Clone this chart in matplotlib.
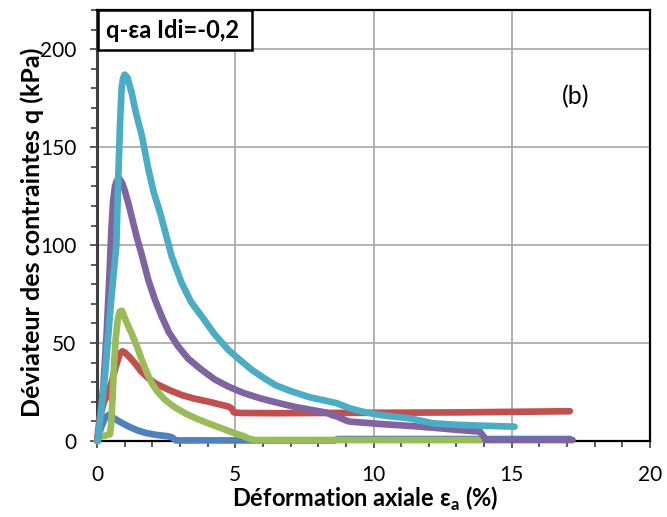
import matplotlib
matplotlib.use("Agg")
import matplotlib.pyplot as plt
from matplotlib.ticker import MultipleLocator
from matplotlib.patches import Rectangle

plt.rcParams['font.family'] = ['Lato', 'DejaVu Sans']

# ---- data ----
blue_x = [0, 0.15, 0.3, 0.42, 0.55, 0.8, 1.13, 1.45, 1.74, 2.1, 2.58, 2.72, 2.85, 8.6, 8.7, 17.1]
blue_y = [0, 7, 12, 13.3, 12.2, 10, 7.5, 5.5, 4.2, 3.2, 2.4, 1.8, 0.3, 0.3, 1.0, 1.0]

red_x = [0, 0.1, 0.25, 0.4, 0.55, 0.7, 0.82, 0.92, 1.02, 1.2, 1.37, 1.6, 1.86, 2.1, 2.34, 2.7, 3.06,
         3.5, 4.03, 4.4, 4.75, 4.88, 4.95, 5.2, 6.44, 8, 10, 13.1, 17.1]
red_y = [0, 12, 20, 24, 31, 39, 44.5, 45.8, 45, 42.5, 39.7, 35.5, 32, 29.5, 27.8, 25.5, 23.5,
         21.7, 20.1, 18.8, 17.6, 16.5, 14.6, 14.3, 14.2, 14.3, 14.4, 14.6, 15.2]

green_x = [0, 0.1, 0.3, 0.47, 0.52, 0.57, 0.62, 0.68, 0.75, 0.82, 0.9, 1.0, 1.12, 1.25, 1.45, 1.62,
           1.8, 1.98, 2.2, 2.46, 2.8, 3.18, 3.6, 4.03, 4.5, 4.99, 5.3, 5.5, 5.7, 13.9]
green_y = [0, 2.2, 2.8, 3.5, 10, 25, 40, 53, 62, 66, 66.5, 63, 59, 55, 48, 41.4,
           35, 29.5, 25, 21, 17.3, 14.2, 11.4, 9, 6.5, 3.9, 2.5, 1.2, 0.5, 0.5]

purple_x = [0.03, 0.23, 0.35, 0.45, 0.52, 0.58, 0.65, 0.72, 0.8, 0.9, 1.0, 1.13, 1.28, 1.43, 1.6,
            1.86, 2.1, 2.34, 2.6, 2.94, 3.3, 3.79, 4.25, 4.75, 5.3, 5.9, 6.5, 7.1, 7.7, 8.3, 8.5,
            8.7, 9.0, 9.15, 10.23, 11.0, 11.7, 12.4, 13.1, 13.85, 14.0, 14.05, 17.2]
purple_y = [0, 28, 55, 85, 108, 122, 130, 133, 134, 132, 128, 121.6, 113, 104.5, 96,
            82, 72, 63.6, 55.5, 48.2, 42, 36.3, 31.5, 27.8, 24.5, 21.8, 19.6, 17.6, 16, 14.5, 13.2,
            12.4, 10.5, 9.9, 8.7, 8, 7.3, 6.5, 5.6, 4.8, 2, 0.5, 0.5]

cyan_x = [0.03, 0.3, 0.5, 0.7, 0.77, 0.83, 0.89, 0.94, 1.0, 1.1, 1.25, 1.4, 1.62, 1.86, 2.05, 2.28,
          2.5, 2.7, 3.06, 3.4, 3.79, 4.25, 4.75, 5.2, 5.6, 6.0, 6.44, 7.0, 7.7, 8.2, 8.67, 9.15,
          9.6, 10.23, 10.8, 11.3, 12.16, 13.1, 14.0, 15.1]
cyan_y = [0, 35, 70, 100, 135, 160.8, 180, 185, 187, 185.5, 178, 168, 156, 138.6, 127, 116.6,
          105, 94.3, 80.7, 71, 63.6, 54.5, 46.5, 41, 36.3, 32.5, 28.6, 25.5, 22.3, 20.8, 19.3, 16.7,
          15, 13.3, 12.3, 11.6, 9.0, 8.2, 7.8, 7.3]

series = [
    (blue_x, blue_y, '#4F81BD'),
    (red_x, red_y, '#C0504D'),
    (green_x, green_y, '#9BBB59'),
    (purple_x, purple_y, '#8064A2'),
    (cyan_x, cyan_y, '#4BACC6'),
]

fig = plt.figure(figsize=(6.67, 5.17), dpi=100)
ax = fig.add_axes([97/667, 1 - 441/517, (650-97)/667, (441-10)/517])

for x, y, c in series:
    ax.plot(x, y, color=c, lw=4.8, solid_capstyle='round', solid_joinstyle='round',
            clip_on=False, zorder=3)

ax.set_xlim(0, 20)
ax.set_ylim(0, 220)
ax.xaxis.set_major_locator(MultipleLocator(5))
ax.xaxis.set_minor_locator(MultipleLocator(1))
ax.yaxis.set_minor_locator(MultipleLocator(10))
ax.set_yticks([0, 50, 100, 150, 200])
ax.grid(True, which='major', color='#A6A6A6', lw=1.2, zorder=0)

ax.tick_params(which='both', direction='out', color='#404040', labelsize=15)
ax.tick_params(which='major', length=5, width=1.2)
ax.tick_params(which='minor', length=4, width=1.2)
ax.tick_params(axis='y', pad=10)
ax.tick_params(axis='x', pad=12)

for s in ['top', 'right', 'bottom']:
    ax.spines[s].set_color('black')
    ax.spines[s].set_linewidth(1.6)
ax.spines['left'].set_color('#404040')
ax.spines['left'].set_linewidth(2.2)

ax.set_xlabel('Déformation axiale ε$_\\mathregular{a}$ (%)', fontsize=17, fontweight='bold')
ax.xaxis.set_label_coords((365 - 97) / 553, (441 - 485) / 431)
ax.set_ylabel('Déviateur des contraintes q (kPa)', fontsize=18, fontweight='bold')
ax.yaxis.set_label_coords((44 - 97) / 553, (441 - 232) / 431)

# title box in the upper-left corner
box = Rectangle(((98 - 97) / 553, (441 - 50) / 431), (252 - 98) / 553, 40 / 431,
                transform=ax.transAxes, fc='white', ec='black', lw=1.8, zorder=5, clip_on=False)
ax.add_patch(box)
ax.text((173 - 97) / 553, (441 - 30) / 431, 'q-εa Idi=-0,2', transform=ax.transAxes,
        ha='center', va='center', fontsize=17, fontweight='bold', zorder=6)
ax.text(17.3, 176, '(b)', fontsize=18, ha='center', va='center')

fig.savefig('out.png', dpi=100)
